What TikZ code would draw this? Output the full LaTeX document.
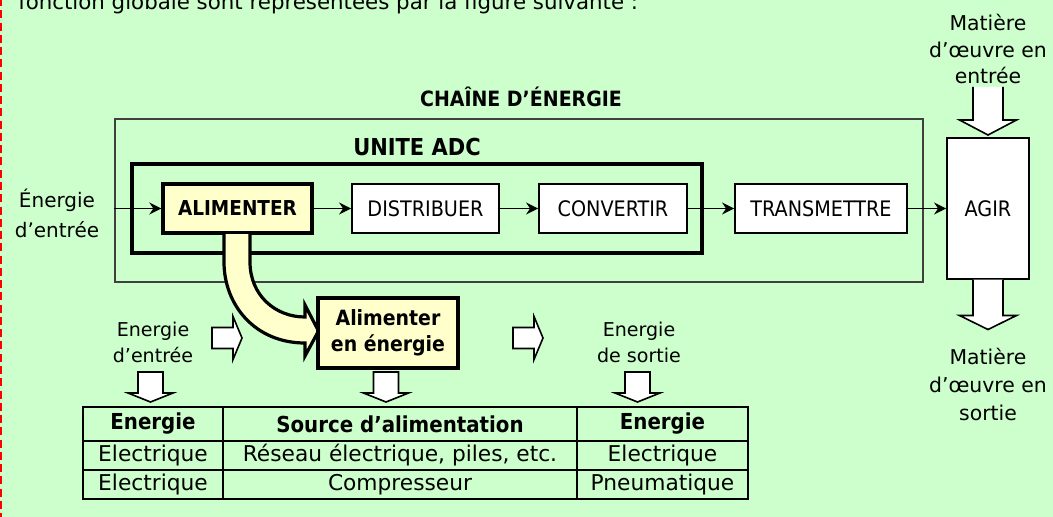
\documentclass[tikz,border=0pt]{standalone}
\usepackage{fontspec}
\setmainfont{DejaVu Sans}
\newfontfamily\condf{DejaVu Sans Condensed}
\usetikzlibrary{arrows.meta}
\definecolor{bg}{RGB}{204,255,204}
\definecolor{ylw}{RGB}{255,255,204}
\newcommand{\fcaps}{\condf\fontsize{16pt}{20pt}\selectfont}
\begin{document}
\begin{tikzpicture}[x=0.75pt,y=-0.75pt,
  thinbox/.style={draw, line width=1.3pt, fill=white, inner sep=0pt, font=\fcaps},
  thickbox/.style={draw, line width=2.4pt, fill=ylw, inner sep=0pt},
  conn/.style={-{Stealth[length=9pt,width=9pt]}, line width=1.4pt},
  hollow/.style={fill=white, draw, line width=1.2pt, line join=miter},
  lbl/.style={align=center, inner sep=0pt},
  pics/hdown/.style args={#1/#2/#3/#4}{code={
    \draw[hollow] (-#1,0) -- (-#1,#3) -- (-#2,#3) -- (0,#3+#4) -- (#2,#3) -- (#1,#3) -- (#1,0) -- cycle;}},
  pics/hdownopen/.style args={#1/#2/#3/#4}{code={
    \fill[white] (-#1,0) -- (-#1,#3) -- (-#2,#3) -- (0,#3+#4) -- (#2,#3) -- (#1,#3) -- (#1,0) -- cycle;
    \draw[hollow, fill=none] (-#1,0) -- (-#1,#3) -- (-#2,#3) -- (0,#3+#4) -- (#2,#3) -- (#1,#3) -- (#1,0);}},
  pics/hright/.style args={#1/#2/#3/#4}{code={
    \draw[hollow] (0,-#1) -- (#3,-#1) -- (#3,-#2) -- (#3+#4,0) -- (#3,#2) -- (#3,#1) -- (0,#1) -- cycle;}}
]
% background and frame
\useasboundingbox (0,0) rectangle (1053,517);
\fill[bg] (0,0) rectangle (1053,517);
\draw[red, line width=1.6pt, dash pattern=on 6pt off 3.2pt] (1.2,-2) -- (1.2,520);
\node[anchor=base west, inner sep=0pt, font=\fontsize{16pt}{20pt}\selectfont] (intro) at (18,10) {fonction globale sont représentées par la figure suivante :};

% containers
\node[draw=black!75, line width=0.8pt, minimum width=606pt, minimum height=122.25pt, inner sep=0pt] (chaine) at (519,200.5) {};
\node[font=\condf\fontsize{15.8pt}{20pt}\selectfont\bfseries, inner sep=0pt] (chainelbl) at (521,97) {CHAÎNE D’ÉNERGIE};
\node[draw, line width=2.4pt, minimum width=427.5pt, minimum height=66.75pt, inner sep=0pt] (adc) at (417,208.5) {};
\node[font=\condf\fontsize{17.5pt}{20pt}\selectfont\bfseries, inner sep=0pt] (adclbl) at (417,147) {UNITE ADC};

% chain blocks
\node[thickbox, font=\condf\fontsize{15.4pt}{20pt}\selectfont\bfseries, minimum width=111.75pt, minimum height=36.75pt] (alim) at (237.5,208.5) {ALIMENTER};
\node[thinbox, minimum width=110.25pt, minimum height=36.75pt] (dist) at (425.5,208.5) {DISTRIBUER};
\node[thinbox, minimum width=111pt, minimum height=36.75pt] (conv) at (613,208.5) {CONVERTIR};
\node[thinbox, minimum width=129pt, minimum height=36.75pt] (trans) at (821,208.5) {TRANSMETTRE};
\node[thinbox, minimum width=61.5pt, minimum height=105.75pt] (agir) at (988,208.5) {AGIR};

\node[lbl, font=\fontsize{15pt}{22.5pt}\selectfont] (ein) at (57,213) {Énergie\\d’entrée};

\draw[conn] (chaine.west |- alim.west) -- (alim.west);
\draw[conn] (alim) -- (dist);
\draw[conn] (dist) -- (conv);
\draw[conn] (conv) -- (trans);
\draw[conn] (trans) -- (agir);

% matiere d'oeuvre
\node[lbl, font=\fontsize{15.3pt}{20pt}\selectfont] (mein) at (988,49) {Matière\\d’œuvre en\\entrée};
\pic at (988,87) {hdownopen={15/28.5/33/15}};
\pic at (988,279.5) {hdownopen={15/28.5/36/14}};
\node[lbl, font=\fontsize{15.3pt}{21pt}\selectfont] (meout) at (988,384) {Matière\\d’œuvre en\\sortie};

% curved arrow
\draw[line width=2.4pt, fill=ylw, line join=miter]
  (250,234) -- (250,262) .. controls (250,295) and (275,317) .. (305,317)
  -- (305,305) -- (318.5,331) -- (305,356) -- (305,343)
  .. controls (255,343) and (224,305) .. (224,262) -- (224,234);

\node[thickbox, font=\condf\fontsize{15.75pt}{19.5pt}\selectfont\bfseries, align=center, minimum width=105pt, minimum height=52.5pt] (alimen) at (388,333) {Alimenter\\en énergie};

% lower labels and hollow arrows
\node[lbl, font=\fontsize{14.3pt}{20pt}\selectfont] (ein2) at (153,342.5) {Energie\\d’entrée};
\node[lbl, font=\fontsize{14.3pt}{20pt}\selectfont] (eout2) at (639,342.5) {Energie\\de sortie};
\pic at (212,338) {hright={10.5/21.5/21/9}};
\pic at (513,338) {hright={10.5/21.5/21/9}};
\pic at (150.5,372) {hdown={12.5/22.5/21/9}};
\pic at (386,372) {hdown={12.5/22.5/21/9}};
\pic at (637.5,372) {hdown={12.5/22.5/21/9}};

% table
\tikzset{cell/.style={draw, line width=1.5pt, inner sep=0pt, font=\fontsize{16.3pt}{18pt}\selectfont},
  hcell/.style={cell, font=\condf\fontsize{16.5pt}{18pt}\selectfont\bfseries}}
\node[hcell, minimum width=105pt, minimum height=25.5pt] (h1) at (153,424) {Energie};
\node[hcell, minimum width=265.5pt, minimum height=25.5pt] (h2) at (400,424) {Source d’alimentation};
\node[hcell, minimum width=128.25pt, minimum height=25.5pt] (h3) at (662.5,424) {Energie};
\node[cell, minimum width=105pt, minimum height=21.75pt] (a1) at (153,455.5) {Electrique};
\node[cell, minimum width=265.5pt, minimum height=21.75pt] (a2) at (400,455.5) {Réseau électrique, piles, etc.};
\node[cell, minimum width=128.25pt, minimum height=21.75pt] (a3) at (662.5,455.5) {Electrique};
\node[cell, minimum width=105pt, minimum height=21.75pt] (b1) at (153,484.5) {Electrique};
\node[cell, minimum width=265.5pt, minimum height=21.75pt] (b2) at (400,484.5) {Compresseur};
\node[cell, minimum width=128.25pt, minimum height=21.75pt] (b3) at (662.5,484.5) {Pneumatique};
\end{tikzpicture}
\end{document}
